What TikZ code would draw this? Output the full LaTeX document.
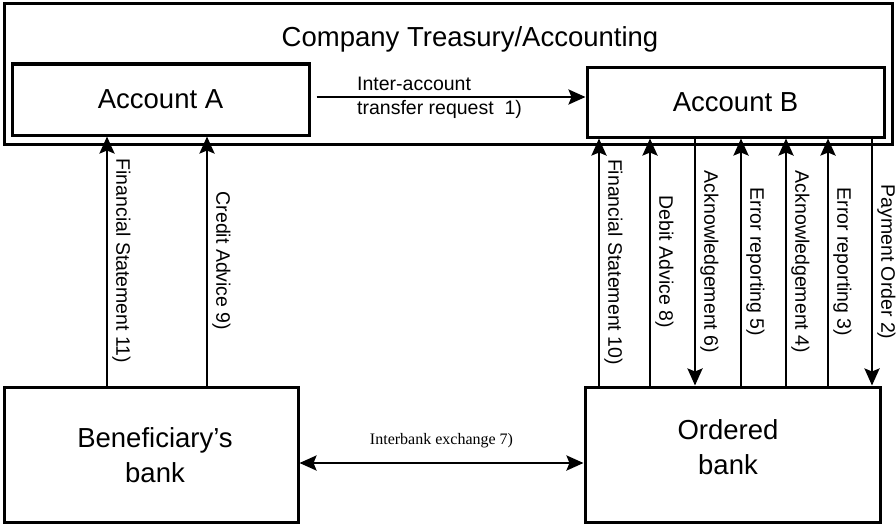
\documentclass[tikz,border=0pt]{standalone}
\usepackage{fontspec}
\setmainfont{Liberation Sans}
\newfontfamily\serifface{Liberation Serif}
\usetikzlibrary{arrows.meta}
\begin{document}
\begin{tikzpicture}[x=1pt,y=-1pt,
  box/.style={draw, line width=3pt, inner sep=0pt, align=center},
  arr/.style={line width=2.6pt, -{Stealth[length=17pt,width=15pt,inset=3pt]}},
  darr/.style={line width=2.6pt, {Stealth[length=17pt,width=15pt,inset=3pt]}-{Stealth[length=17pt,width=15pt,inset=3pt]}},
  vlab/.style={rotate=-90, anchor=south, inner sep=4pt, font=\fontsize{19.5}{21}\selectfont},
  big/.style={align=center, font=\fontsize{27.5}{35}\selectfont}]
\useasboundingbox (0,0) rectangle (896,527);
% containers
\node[box, minimum width=888pt, minimum height=140pt] (treasury) at (448,74) {};
\node[font=\fontsize{27.5}{30}\selectfont] (title) at (470,39) {Company Treasury/Accounting};
\node[box, big, minimum width=297pt, minimum height=71pt] (accA) at (160.5,99.5) {Account A};
\node[box, big, minimum width=297pt, minimum height=70pt] (accB) at (735.5,102) {Account B};
\node[box, minimum width=294pt, minimum height=135pt] (benef) at (151,454.5) {};
\node[big] (beneflbl) at (155,455) {Beneficiary’s\\bank};
\node[box, minimum width=295pt, minimum height=135pt] (ordered) at (732.5,454.5) {};
\node[big] (ordlbl) at (728,447) {Ordered\\bank};
% helper coordinates
\coordinate (yrow) at (0,97);
\coordinate (yb) at (0,463);
\coordinate (c1) at (107,0);
\coordinate (c2) at (207,0);
\coordinate (c3) at (599,0);
\coordinate (c4) at (650,0);
\coordinate (c5) at (695,0);
\coordinate (c6) at (741,0);
\coordinate (c7) at (786,0);
\coordinate (c8) at (828,0);
\coordinate (c9) at (872,0);
% inter-account transfer
\draw[arr, shorten <=6pt] (accA.east |- yrow) -- (accB.west |- yrow);
\node[anchor=west, inner sep=0pt, align=left, font=\fontsize{19.5}{24}\selectfont] (ialab) at (357,98) {Inter-account\\transfer request\ \ 1)};
% left side
\draw[arr] (benef.north -| c1) -- node[vlab]{Financial Statement 11)} (accA.south -| c1);
\draw[arr] (benef.north -| c2) -- node[vlab]{Credit Advice 9)} (accA.south -| c2);
% right side
\draw[arr] (ordered.north -| c3) -- node[vlab]{Financial Statement 10)} (accB.south -| c3);
\draw[arr] (ordered.north -| c4) -- node[vlab]{Debit Advice 8)} (accB.south -| c4);
\draw[arr] (accB.south -| c5) -- node[vlab]{Acknowledgement 6)} (ordered.north -| c5);
\draw[arr] (ordered.north -| c6) -- node[vlab]{Error reporting 5)} (accB.south -| c6);
\draw[arr] (ordered.north -| c7) -- node[vlab]{Acknowledgement 4)} (accB.south -| c7);
\draw[arr] (ordered.north -| c8) -- node[vlab]{Error reporting 3)} (accB.south -| c8);
\draw[arr] (accB.south -| c9) -- node[vlab]{Payment Order 2)} (ordered.north -| c9);
% interbank
\draw[darr] (benef.east |- yb) -- node[above=14pt, inner sep=0pt, font=\serifface\fontsize{16}{18}\selectfont]{Interbank exchange 7)} (ordered.west |- yb);
\end{tikzpicture}
\end{document}
